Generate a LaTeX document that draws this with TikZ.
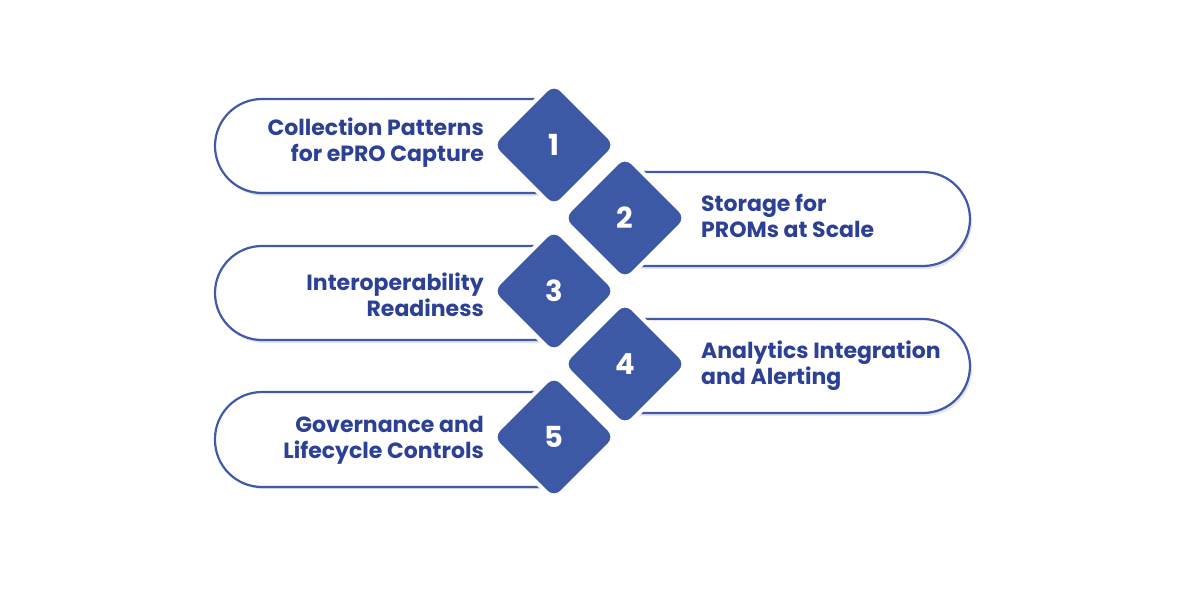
\documentclass[tikz,border=0pt]{standalone}
\usepackage{fontspec}
\setmainfont{Poppins}
\definecolor{pillblue}{HTML}{3F5AA8}
\definecolor{diablue}{HTML}{3D58A4}
\definecolor{txtblue}{HTML}{2C4095}
\begin{document}
\begin{tikzpicture}[x=1pt,y=-1pt,
  pill/.style={draw=pillblue,line width=2.2pt,fill=white,rounded corners=47pt},
  pshadow/.style={fill=black!10,rounded corners=47pt},
  dia/.style={fill=diablue,draw=white,line width=4pt,rounded corners=11pt},
  num/.style={text=white,font=\bfseries\fontsize{29}{29}\selectfont,inner sep=0pt},
  ltxt/.style={text=txtblue,font=\bfseries\fontsize{22}{26}\selectfont,align=right,anchor=east,inner sep=0pt},
  rtxt/.style={text=txtblue,font=\bfseries\fontsize{22}{26}\selectfont,align=left,anchor=west,inner sep=0pt}]
\useasboundingbox (0,0) rectangle (1200,600);
% shadows
\foreach \yt in {99,246,392}{
  \fill[pshadow] (560,\yt+3) -- (217,\yt+3) -- (217,\yt+97) -- (560,\yt+97);
}
\foreach \yt in {172,319}{
  \fill[pshadow] (625,\yt+3) -- (972,\yt+3) -- (972,\yt+97) -- (625,\yt+97);
}
% pills
\draw[pill] (560,99) -- (215,99) -- (215,193) -- (560,193);
\draw[pill] (625,172) -- (970,172) -- (970,266) -- (625,266);
\draw[pill] (560,246) -- (215,246) -- (215,340) -- (560,340);
\draw[pill] (625,319) -- (970,319) -- (970,413) -- (625,413);
\draw[pill] (560,392) -- (215,392) -- (215,487) -- (560,487);
% texts
\node[ltxt] (t1) at (484,143) {Collection Patterns\\for ePRO Capture};
\node[rtxt] (t2) at (701,216) {Storage for\\PROMs at Scale};
\node[ltxt] (t3) at (484,295) {Interoperability\\Readiness};
\node[rtxt] (t4) at (701,366) {Analytics Integration\\and Alerting};
\node[ltxt] (t5) at (484,440) {Governance and\\Lifecycle Controls};
% diamonds
\foreach \cx/\cy/\n in {554/145/1,625/218/2,554/291/3,625/364/4,554/437/5}{
  \draw[dia] (\cx,\cy-63) -- (\cx+63,\cy) -- (\cx,\cy+63) -- (\cx-63,\cy) -- cycle;
  \node[num] (n\n) at (\cx,\cy) {\n};
}
\end{tikzpicture}
\end{document}
